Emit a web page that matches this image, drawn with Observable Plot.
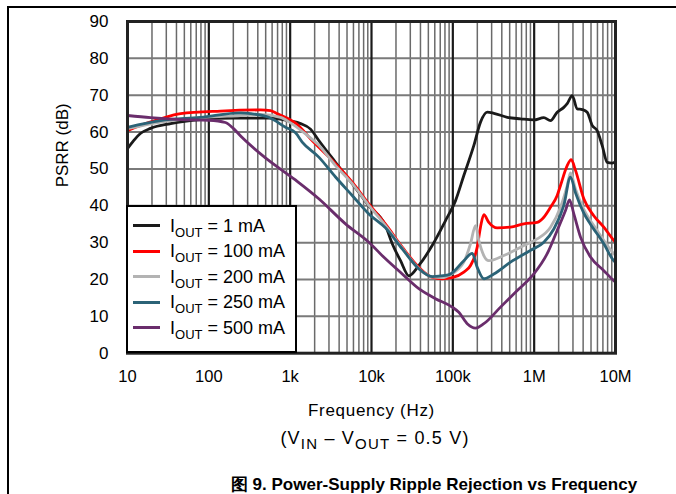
<!DOCTYPE html>
<html><head><meta charset="utf-8">
<script src="https://cdn.jsdelivr.net/npm/d3@7"></script>
<script src="https://cdn.jsdelivr.net/npm/@observablehq/plot@0.6"></script>
<style>
body{margin:0;background:#fff;font-family:"Liberation Sans",Arial,sans-serif;color:#000;}
#page{position:relative;width:676px;height:494px;overflow:hidden;}
#border{position:absolute;left:7px;top:6px;width:700px;height:520px;border-top:2px solid #000;border-left:2px solid #000;}
#chart{position:absolute;left:0;top:0;}
#legend{position:absolute;left:126px;top:205px;width:167px;height:144px;border:2px solid #000;background:#fff;}
.row{position:absolute;left:0;height:22px;line-height:22px;font-size:18px;white-space:nowrap;}
.sw{position:absolute;left:5px;top:9.5px;width:27px;height:3px;}
.lt{position:absolute;left:42px;top:0;}
.lt sub{font-size:13px;vertical-align:-5px;line-height:0;}
.cap{position:absolute;white-space:nowrap;transform:translateX(-50%);}
#xlab{left:371.5px;top:401px;font-size:17px;line-height:20px;letter-spacing:0.7px;}
#cond{left:375px;top:427px;font-size:18px;line-height:22px;letter-spacing:1.2px;}
#cond sub{font-size:15px;vertical-align:-5px;line-height:0;}
#title{left:434px;top:474.5px;font-size:17px;line-height:20px;font-weight:bold;}
</style>
</head><body>
<div id="page">
<div id="border"></div>
<div id="chart"></div>
<div id="legend"></div>
<div class="cap" id="xlab">Frequency (Hz)</div>
<div class="cap" id="cond">(V<sub>IN</sub> – V<sub>OUT</sub> = 0.5 V)</div>
<div class="cap" id="title">图 9. Power-Supply Ripple Rejection vs Frequency</div>
</div>
<script>
// Series (output current) and colours
const series = ["1 mA", "100 mA", "200 mA", "250 mA", "500 mA"];
const colors = ["#1a1a1a", "#ff0000", "#b3b3b3", "#2b6377", "#6a2d6c"];

// [frequency (Hz), PSRR (dB)]
const psrr1mA = [[10,55.5],[11.9,57.7],[14.4,59.6],[19.2,61],[34,62.3],[79,63.4],[200,63.8],[570,63.8],[1010,63],[1340,62.3],[1780,60.8],[2250,57.7],[3610,51.8],[5790,46],[9270,40],[14870,34.6],[18000,29.7],[22750,25.1],[28800,21],[38200,23.8],[55700,29.2],[81300,36],[108000,41.4],[136500,48.2],[181000,56.3],[219000,62.7],[265000,65.4],[319000,65.1],[467000,64],[679000,63.6],[990000,63.3],[1315000,63.9],[1588000,63.1],[1919000,65.4],[2315000,66.7],[2547000,67.7],[2938000,69.9],[3382000,66.3],[3898000,66.1],[4487000,65.4],[5166000,61.8],[5953000,60.4],[6866000,56.3],[7905000,51.8],[9114000,51.6],[10000000,52]];
const psrr100mA = [[10,60.4],[14.4,61.8],[25.5,63.6],[45,65],[139,65.7],[432,66],[573,65.8],[693,65],[1010,63.3],[1164,62.4],[1954,57.2],[3610,51.4],[5790,46.4],[9270,40.5],[14870,35],[23870,28.8],[38200,23.3],[55700,20.6],[74000,20.2],[98200,20.5],[136500,22],[165000,23.8],[199500,28.8],[218800,34.2],[240400,37.6],[276700,35.5],[351400,34],[511700,34.2],[746400,35.1],[1089000,35.5],[1315000,36.9],[1588000,39.6],[1919000,42.8],[2107000,45.5],[2547000,50.9],[2855000,52.5],[3224000,49.6],[4076000,41.9],[5409000,37.3],[7184000,34.2],[9532000,30.6],[10000000,30.1]];
const psrr200mA = [[10,60.9],[25.5,62.7],[79,63.9],[245,64.5],[432,64.8],[761,64],[1010,62.5],[1545,59.5],[2250,56.4],[3610,50.9],[5790,46],[9270,40.1],[14870,34.6],[23870,28.5],[38200,23],[55700,20.7],[74000,20.5],[93600,21.3],[118500,23],[136500,24.7],[165000,29.7],[190000,34.6],[208600,30.6],[240400,26.5],[276700,25.1],[423600,26.5],[746400,29.2],[1089000,31],[1588000,34.2],[2107000,39.6],[2550000,45.5],[2797000,48.9],[3224000,44.5],[4076000,39],[5953000,33.3],[9532000,27],[10000000,26.5]];
const psrr250mA = [[10,61.3],[25.5,63.1],[79,64],[245,65.2],[330,65],[546,64],[877,61.3],[1164,59.8],[1406,57.3],[2250,53.2],[3610,47.8],[5790,42.8],[9270,37.8],[14870,34],[23870,28.3],[38200,22.9],[55700,20.8],[81300,21.1],[93600,21.5],[136500,25.1],[173000,27.1],[199500,23.3],[240400,20.2],[319100,21.5],[511700,24.7],[901500,27.9],[1315000,30.1],[1745000,33.7],[2315000,40.1],[2797000,47.8],[3224000,43.5],[4076000,38],[4929000,35],[7184000,29.7],[9532000,25.1],[10000000,24.7]];
const psrr500mA = [[10,64.5],[19.2,63.9],[45,63.4],[100,63.2],[160,62.6],[200,61],[257,58.5],[497,53],[1160,47],[2250,41.9],[4790,35.1],[9270,30.1],[14870,25.6],[23870,21.5],[38200,17.5],[61200,14.8],[98200,12.5],[118500,11.1],[150300,8],[190000,6.8],[240400,8],[385500,12.5],[619200,17],[990800,21.5],[1446000,27],[1919000,33.3],[2428000,38.7],[2720000,41.6],[3074000,37.8],[3715000,31.5],[4929000,26.1],[7184000,22.4],[9532000,19.7],[10000000,19.3]];

// Axis ticks
const decades = [10, 100, 1e3, 1e4, 1e5, 1e6, 1e7];
const decadeLabels = ["10", "100", "1k", "10k", "100k", "1M", "10M"];
const minorSteps = [2, 3, 4, 5, 6, 7, 8, 9];
const yTicks = [0, 10, 20, 30, 40, 50, 60, 70, 80, 90];

const allSeries = [psrr1mA, psrr100mA, psrr200mA, psrr250mA, psrr500mA];
const rows = allSeries.flatMap((arr, i) => arr.map(([f, db]) => ({f, db, s: series[i]})));
const minorTicks = decades.slice(0, -1).flatMap(d => minorSteps.map(k => k * d));

const chart = Plot.plot({
  width: 676, height: 390,
  marginLeft: 127, marginRight: 61, marginTop: 21, marginBottom: 37.3,
  style: {fontFamily: "Liberation Sans, Arial, sans-serif", fontSize: "16px", color: "#000", background: "transparent"},
  x: {type: "log", domain: [10, 1e7]},
  y: {domain: [0, 90]},
  color: {domain: series, range: colors},
  marks: [
    Plot.ruleX(minorTicks, {stroke: "#6a6a6a", strokeWidth: 1.5}),
    Plot.ruleY(yTicks.slice(1, -1), {stroke: "#7a7a7a", strokeWidth: 2}),
    Plot.ruleX(decades.slice(1, -1), {stroke: "#1a1a1a", strokeWidth: 2.2}),
    Plot.line(rows, {x: "f", y: "db", z: "s", stroke: "s", strokeWidth: 2.8, curve: "monotone-x"}),
    Plot.frame({stroke: "#222", strokeWidth: 3}),
    Plot.axisX({ticks: decades, tickFormat: d => decadeLabels[decades.indexOf(d)], tickSize: 0, tickPadding: 17, label: null, fontSize: 16.5}),
    Plot.axisY({ticks: yTicks, tickSize: 0, tickPadding: 19, label: null, fontSize: 17}),
    Plot.text(["PSRR (dB)"], {frameAnchor: "left", rotate: -90, dx: -65, fontSize: 17})
  ]
});
document.getElementById("chart").appendChild(chart);

// Legend
const legend = document.getElementById("legend");
series.forEach((name, i) => {
  const row = document.createElement("div");
  row.className = "row";
  row.style.top = (7.5 + i * 25.6) + "px";
  row.innerHTML = `<div class="sw" style="background:${colors[i]}"></div><div class="lt">I<sub>OUT</sub> = ${name}</div>`;
  legend.appendChild(row);
});
</script>
</body></html>
